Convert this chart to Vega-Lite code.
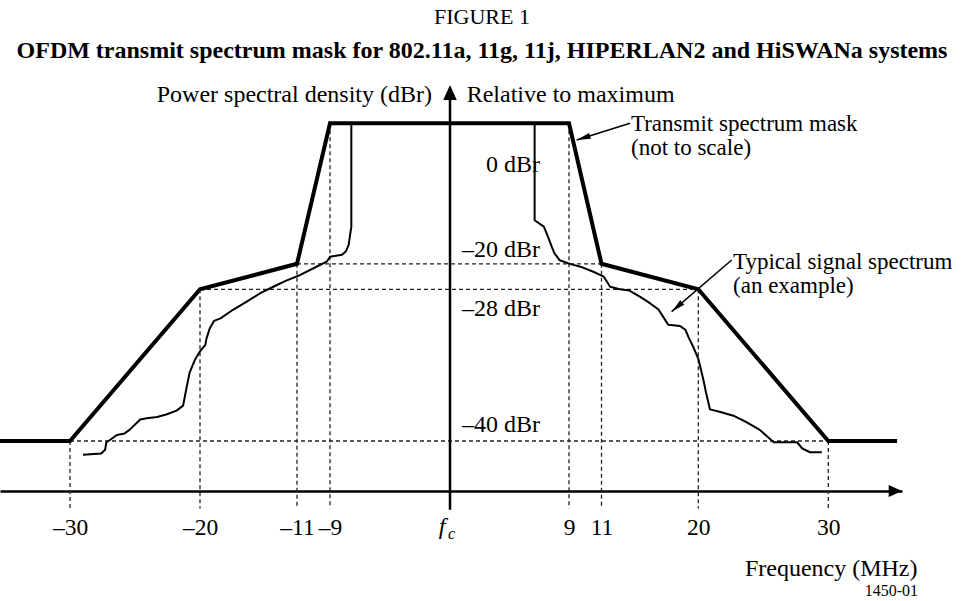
{
  "$schema": "https://vega.github.io/schema/vega-lite/v6.json",
  "width": 902,
  "height": 421,
  "autosize": {"type": "none"},
  "padding": {"left": 0, "top": 70, "right": 63, "bottom": 110},
  "background": "white",
  "config": {"view": {"stroke": null}, "font": "Liberation Serif"},
  "title": {
    "text": "FIGURE 1",
    "subtitle": "OFDM transmit spectrum mask for 802.11a, 11g, 11j, HIPERLAN2 and HiSWANa systems",
    "anchor": "middle",
    "frame": "group",
    "dx": 31,
    "offset": 6,
    "font": "Liberation Serif",
    "fontSize": 22,
    "fontWeight": "normal",
    "color": "black",
    "subtitleFont": "Liberation Serif",
    "subtitleFontSize": 24,
    "subtitleFontWeight": "bold",
    "subtitleColor": "black",
    "subtitlePadding": 10
  },
  "datasets": {
    "mask": [
      {"i": 0, "x": -35, "y": -40}, {"i": 1, "x": -30, "y": -40}, {"i": 2, "x": -20, "y": -28},
      {"i": 3, "x": -11, "y": -20}, {"i": 4, "x": -9, "y": 0}, {"i": 5, "x": 9, "y": 0},
      {"i": 6, "x": 11, "y": -20}, {"i": 7, "x": 20, "y": -28}, {"i": 8, "x": 30, "y": -40},
      {"i": 9, "x": 35.6, "y": -40}
    ],
    "signal": [
      {"i": 0, "x": -29.0, "y": -41.1}, {"i": 1, "x": -27.6, "y": -41.0}, {"i": 2, "x": -27.3, "y": -40.7},
      {"i": 3, "x": -27.2, "y": -40.1}, {"i": 4, "x": -26.9, "y": -39.9}, {"i": 5, "x": -26.5, "y": -39.6},
      {"i": 6, "x": -26.3, "y": -39.5}, {"i": 7, "x": -25.8, "y": -39.4}, {"i": 8, "x": -25.4, "y": -39.1},
      {"i": 9, "x": -24.6, "y": -38.3}, {"i": 10, "x": -24.1, "y": -38.2}, {"i": 11, "x": -23.3, "y": -38.1},
      {"i": 12, "x": -22.6, "y": -37.9}, {"i": 13, "x": -21.8, "y": -37.6}, {"i": 14, "x": -21.3, "y": -37.2},
      {"i": 15, "x": -21.15, "y": -36.4}, {"i": 16, "x": -21.0, "y": -35.6}, {"i": 17, "x": -20.8, "y": -34.6},
      {"i": 18, "x": -20.4, "y": -33.6}, {"i": 19, "x": -20.0, "y": -32.9}, {"i": 20, "x": -19.5, "y": -32.4},
      {"i": 21, "x": -19.4, "y": -31.9}, {"i": 22, "x": -19.1, "y": -31.1}, {"i": 23, "x": -18.7, "y": -30.5},
      {"i": 24, "x": -18.1, "y": -30.3}, {"i": 25, "x": -16.9, "y": -29.6}, {"i": 26, "x": -15.7, "y": -29.0},
      {"i": 27, "x": -14.4, "y": -28.3}, {"i": 28, "x": -13.2, "y": -27.2}, {"i": 29, "x": -12.0, "y": -25.3},
      {"i": 30, "x": -10.8, "y": -23.5}, {"i": 31, "x": -10.0, "y": -21.4}, {"i": 32, "x": -9.2, "y": -19.7},
      {"i": 33, "x": -9.0, "y": -19.0}, {"i": 34, "x": -8.1, "y": -18.7}, {"i": 35, "x": -7.8, "y": -18.2},
      {"i": 36, "x": -7.6, "y": -17.3}, {"i": 37, "x": -7.5, "y": -16.0}, {"i": 38, "x": -7.4, "y": -14.7},
      {"i": 39, "x": -7.4, "y": 0}, {"i": 40, "x": 6.4, "y": 0}, {"i": 41, "x": 6.4, "y": -13.8},
      {"i": 42, "x": 7.1, "y": -14.7}, {"i": 43, "x": 7.4, "y": -16.1}, {"i": 44, "x": 7.7, "y": -17.6},
      {"i": 45, "x": 7.9, "y": -18.5}, {"i": 46, "x": 8.3, "y": -19.5}, {"i": 47, "x": 9.1, "y": -20.1},
      {"i": 48, "x": 9.7, "y": -20.9}, {"i": 49, "x": 10.5, "y": -22.5}, {"i": 50, "x": 11.2, "y": -24.0},
      {"i": 51, "x": 11.8, "y": -27.2}, {"i": 52, "x": 12.7, "y": -28.0}, {"i": 53, "x": 13.6, "y": -28.1},
      {"i": 54, "x": 14.6, "y": -28.6}, {"i": 55, "x": 15.5, "y": -29.1}, {"i": 56, "x": 16.3, "y": -29.6},
      {"i": 57, "x": 16.9, "y": -30.4}, {"i": 58, "x": 17.2, "y": -30.8}, {"i": 59, "x": 18.3, "y": -30.9},
      {"i": 60, "x": 18.8, "y": -31.2}, {"i": 61, "x": 19.1, "y": -31.8}, {"i": 62, "x": 19.5, "y": -32.5},
      {"i": 63, "x": 20.0, "y": -33.5}, {"i": 64, "x": 20.4, "y": -35.2}, {"i": 65, "x": 20.6, "y": -36.2},
      {"i": 66, "x": 20.9, "y": -37.5}, {"i": 67, "x": 21.7, "y": -37.7}, {"i": 68, "x": 22.7, "y": -38.0},
      {"i": 69, "x": 23.7, "y": -38.5}, {"i": 70, "x": 24.7, "y": -39.1}, {"i": 71, "x": 25.8, "y": -40.1},
      {"i": 72, "x": 27.6, "y": -40.1}, {"i": 73, "x": 28.0, "y": -40.6}, {"i": 74, "x": 28.6, "y": -40.9},
      {"i": 75, "x": 29.5, "y": -40.9}
    ],
    "guides": [
      {"x": -30, "y": -40, "x2": -30, "y2": -45.4}, {"x": -20, "y": -28, "x2": -20, "y2": -45.4},
      {"x": -11, "y": -20, "x2": -11, "y2": -45.4}, {"x": -9, "y": 0, "x2": -9, "y2": -45.4},
      {"x": 9, "y": 0, "x2": 9, "y2": -45.4}, {"x": 11, "y": -20, "x2": 11, "y2": -45.4},
      {"x": 20, "y": -28, "x2": 20, "y2": -45.4}, {"x": 30, "y": -40, "x2": 30, "y2": -45.4},
      {"x": -30, "y": -40, "x2": 30, "y2": -40}, {"x": -20, "y": -28, "x2": 20, "y2": -28},
      {"x": -11, "y": -20, "x2": 11, "y2": -20}
    ],
    "yaxis": [{"x": 0, "y": -45.5, "x2": 0, "y2": 5}],
    "yarrow": [{"x": 0, "y": 5.75}],
    "xarrow": [{"x": 36, "y": -44}],
    "leaders": [
      {"x": 13.65, "y": 0, "x2": 9.47, "y2": -2.38},
      {"x": 22.57, "y": -19.46, "x2": 17.52, "y2": -29.77}
    ],
    "headTransmit": [{"x": 9.47, "y": -2.38}],
    "headTypical": [{"x": 17.52, "y": -29.77}],
    "textRight": [
      {"x": -1.35, "y": 3.2, "label": "Power spectral density (dBr)"},
      {"x": 6.81, "y": -6.93, "label": "0 dBr"},
      {"x": 6.81, "y": -19.03, "label": "–20 dBr"},
      {"x": 6.81, "y": -30.11, "label": "–28 dBr"},
      {"x": 6.81, "y": -39.29, "label": "–40 dBr"}
    ],
    "textTop": [
      {"x": 1.26, "y": 3.2, "label": "Relative to maximum"}
    ],
    "notes": [
      {"x": 13.74, "y": -1.1, "label": "Transmit spectrum mask"},
      {"x": 13.74, "y": -4.51, "label": "(not to scale)"},
      {"x": 22.67, "y": -21.63, "label": "Typical signal spectrum"},
      {"x": 22.67, "y": -28.29, "label": "(an example)"}
    ],
    "fLabel": [{"x": -0.6, "y": -47.4, "label": "f"}],
    "cLabel": [{"x": -0.15, "y": -47.8, "label": "c"}],
    "code": [{"x": 37.3, "y": -52.4, "label": "1450-01"}]
  },
  "encoding": {
    "x": {
      "field": "x",
      "type": "quantitative",
      "scale": {
        "domain": [-35, -30, -20, -11, -9, 0, 9, 11, 20, 30, 36],
        "range": [0, 70, 200, 297, 330, 450, 569, 601.5, 698.3, 828.3, 902],
        "nice": false,
        "zero": false
      },
      "axis": {
        "values": [-30, -20, -11, -9, 0, 9, 11, 20, 30],
        "labelExpr": "datum.value == 0 ? '' : (datum.value < 0 ? '–' + (-datum.value) : '' + datum.value)",
        "domain": true,
        "domainColor": "black",
        "domainWidth": 2.5,
        "ticks": false,
        "tickSize": 0,
        "grid": false,
        "labelFont": "Liberation Serif",
        "labelFontSize": 23.5,
        "labelColor": "black",
        "labelBaseline": "alphabetic",
        "labelPadding": 43,
        "labelOverlap": false,
        "labelFlush": false,
        "labelBound": false,
        "title": "Frequency (MHz)",
        "titleFont": "Liberation Serif",
        "titleFontSize": 24,
        "titleFontWeight": "normal",
        "titleColor": "black",
        "titleAnchor": "end",
        "titleAlign": "right",
        "titleBaseline": "alphabetic",
        "titleX": 917,
        "titleY": 84
      }
    },
    "y": {
      "field": "y",
      "type": "quantitative",
      "scale": {
        "domain": [-44, -40, -28, -20, 0, 8],
        "range": [421, 371, 219.3, 193.8, 53.3, 0],
        "nice": false,
        "zero": false
      },
      "axis": null
    }
  },
  "layer": [
    {
      "data": {"name": "guides"},
      "mark": {"type": "rule", "color": "#222", "strokeWidth": 1.3, "strokeDash": [4, 3]},
      "encoding": {"x2": {"field": "x2"}, "y2": {"field": "y2"}}
    },
    {
      "data": {"name": "yaxis"},
      "mark": {"type": "rule", "color": "black", "strokeWidth": 2.5},
      "encoding": {"x2": {"field": "x2"}, "y2": {"field": "y2"}}
    },
    {
      "data": {"name": "signal"},
      "mark": {"type": "line", "color": "black", "strokeWidth": 2, "strokeJoin": "round"},
      "encoding": {"order": {"field": "i", "type": "quantitative"}}
    },
    {
      "data": {"name": "mask"},
      "mark": {"type": "line", "color": "black", "strokeWidth": 4, "strokeJoin": "miter"},
      "encoding": {"order": {"field": "i", "type": "quantitative"}}
    },
    {
      "data": {"name": "yarrow"},
      "mark": {"type": "point", "shape": "M0,0L0.45,1L-0.45,1Z", "size": 900, "filled": true, "color": "black", "opacity": 1, "angle": 0}
    },
    {
      "data": {"name": "xarrow"},
      "mark": {"type": "point", "shape": "M0,0L0.45,1L-0.45,1Z", "size": 708, "filled": true, "color": "black", "opacity": 1, "angle": 90}
    },
    {
      "data": {"name": "leaders"},
      "mark": {"type": "rule", "color": "black", "strokeWidth": 1.5},
      "encoding": {"x2": {"field": "x2"}, "y2": {"field": "y2"}}
    },
    {
      "data": {"name": "headTransmit"},
      "mark": {"type": "point", "shape": "M0,0L0.22,1L-0.22,1Z", "size": 784, "filled": true, "color": "black", "opacity": 1, "angle": 252.6}
    },
    {
      "data": {"name": "headTypical"},
      "mark": {"type": "point", "shape": "M0,0L0.22,1L-0.22,1Z", "size": 784, "filled": true, "color": "black", "opacity": 1, "angle": 229.2}
    },
    {
      "data": {"name": "textRight"},
      "mark": {"type": "text", "align": "right", "baseline": "alphabetic", "font": "Liberation Serif", "fontSize": 24, "color": "black"},
      "encoding": {"text": {"field": "label"}}
    },
    {
      "data": {"name": "textTop"},
      "mark": {"type": "text", "align": "left", "baseline": "alphabetic", "font": "Liberation Serif", "fontSize": 24, "color": "black"},
      "encoding": {"text": {"field": "label"}}
    },
    {
      "data": {"name": "notes"},
      "mark": {"type": "text", "align": "left", "baseline": "alphabetic", "font": "Liberation Serif", "fontSize": 23, "color": "black"},
      "encoding": {"text": {"field": "label"}}
    },
    {
      "data": {"name": "fLabel"},
      "mark": {"type": "text", "align": "center", "baseline": "alphabetic", "font": "Liberation Serif", "fontSize": 24, "fontStyle": "italic", "color": "black"},
      "encoding": {"text": {"field": "label"}}
    },
    {
      "data": {"name": "cLabel"},
      "mark": {"type": "text", "align": "left", "baseline": "alphabetic", "font": "Liberation Serif", "fontSize": 16, "fontStyle": "italic", "color": "black"},
      "encoding": {"text": {"field": "label"}}
    },
    {
      "data": {"name": "code"},
      "mark": {"type": "text", "align": "right", "baseline": "alphabetic", "font": "Liberation Serif", "fontSize": 16, "color": "black"},
      "encoding": {"text": {"field": "label"}}
    }
  ]
}
